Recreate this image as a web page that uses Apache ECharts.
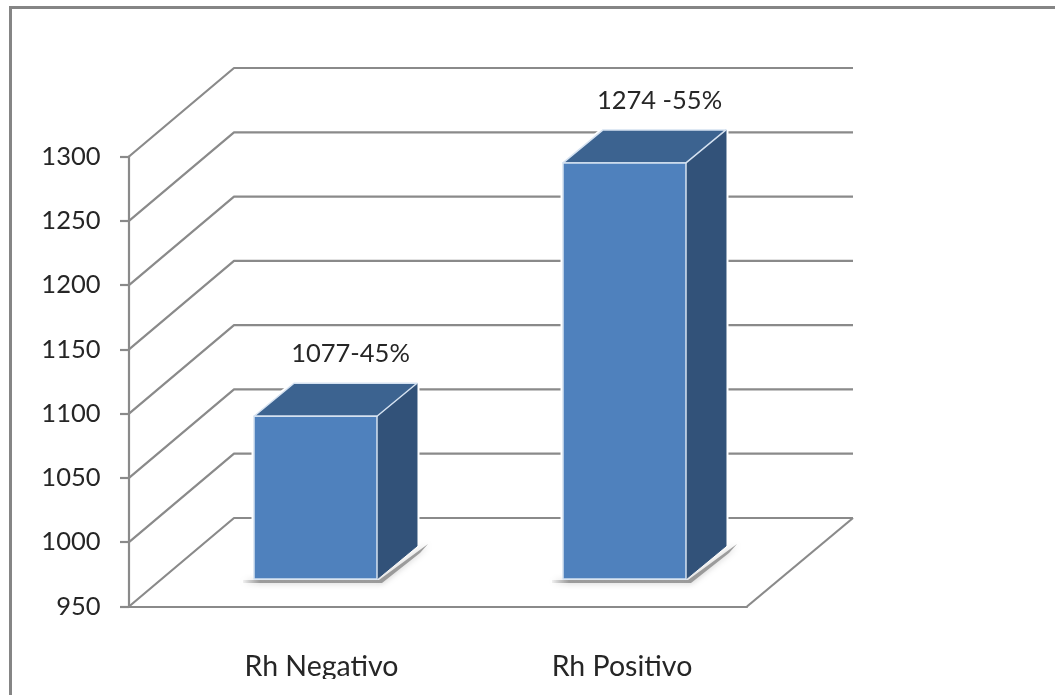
<!DOCTYPE html>
<html>
<head>
<meta charset="utf-8">
<style>html,body{margin:0;padding:0;background:#fff}#chart{width:1055px;height:695px}</style>
<script src="https://cdn.jsdelivr.net/npm/echarts@6/dist/echarts.min.js"></script>
</head>
<body>
<div id="chart"></div>
<script>
// Rh factor counts, drawn as pseudo-3D columns on a walled floor
const categories = ['Rh Negativo', 'Rh Positivo'];
const counts = [1077, 1274];
const valueLabels = ['1077-45%', '1274 -55%'];
const yTicks = [950, 1000, 1050, 1100, 1150, 1200, 1250, 1300];

const AXIS_MIN = 950, AXIS_MAX = 1300;
const WALL_DX = 105, WALL_DY = -88.5;      // how far the back wall sits from the front plane
const BAR_SHIFT_X = 32, BAR_SHIFT_Y = -27; // columns stand part-way into the floor
const BAR_DX = 40, BAR_DY = -33;           // column depth
const LINE = '#8a8a8a';

function polyline(points, width) {
  return { type: 'polyline', shape: { points }, style: { stroke: LINE, lineWidth: width || 2.2, fill: null, lineJoin: 'round' } };
}

function renderWall(params, api) {
  const tick = api.value(0);
  const left = api.coord([0, tick]);
  const plot = params.coordSys;
  const right = plot.x + plot.width;
  const pts = [[plot.x, left[1]], [plot.x + WALL_DX, left[1] + WALL_DY], [right + WALL_DX + 1, left[1] + WALL_DY]];
  const children = [polyline(pts)];
  if (tick === AXIS_MIN) {
    children.push(polyline([[right, left[1]], [right + WALL_DX + 1, left[1] + WALL_DY]]));
  }
  return { type: 'group', children };
}

function renderColumn(params, api) {
  const catIndex = api.value(0);
  const top = api.coord([catIndex, api.value(1)]);
  const base = api.coord([catIndex, AXIS_MIN]);
  const w = api.size([1, 0])[0] * 0.398;
  const x0 = top[0] - w / 2 + BAR_SHIFT_X, x1 = x0 + w;
  const yT = top[1] + BAR_SHIFT_Y, yB = base[1] + BAR_SHIFT_Y - 0.5;
  const edge = { stroke: '#d5e2f1', lineWidth: 1.5, lineJoin: 'round' };
  return {
    type: 'group',
    children: [
      // white halo that interrupts the wall lines around the column
      {
        type: 'polygon',
        shape: { points: [[x0, yB], [x0, yT], [x0 + BAR_DX, yT + BAR_DY], [x1 + BAR_DX, yT + BAR_DY], [x1 + BAR_DX, yB + BAR_DY], [x1, yB]] },
        style: { fill: '#ffffff', stroke: '#ffffff', lineWidth: 5, lineJoin: 'round' }
      },
      // soft cast shadow along the foot of the column, fading towards its left end
      {
        type: 'polygon',
        shape: { points: [[x0 - 11, yB + 1], [x1 + 2, yB + 1], [x1 + BAR_DX + 11, yB + BAR_DY - 2], [x1 + BAR_DX + 3, yB + BAR_DY + 7], [x1 + 5, yB + 4], [x0 - 11, yB + 4]] },
        style: {
          fill: new echarts.graphic.LinearGradient(x0 - 11, 0, x0 + 6, 0, [
            { offset: 0, color: 'rgba(130,130,130,0.1)' },
            { offset: 1, color: 'rgba(130,130,130,0.75)' }
          ], true),
          shadowBlur: 6, shadowColor: 'rgba(130,130,130,0.7)'
        }
      },
      {
        type: 'polygon',
        shape: { points: [[x1, yT], [x1 + BAR_DX, yT + BAR_DY], [x1 + BAR_DX, yB + BAR_DY], [x1, yB]] },
        style: { fill: '#325279', stroke: '#325279', lineWidth: 1 }
      },
      {
        type: 'polygon',
        shape: { points: [[x0, yT], [x0 + BAR_DX, yT + BAR_DY], [x1 + BAR_DX, yT + BAR_DY], [x1, yT]] },
        style: Object.assign({ fill: '#3c6390' }, edge)
      },
      {
        type: 'rect',
        shape: { x: x0, y: yT, width: w, height: yB - yT },
        style: Object.assign({ fill: '#4f81bd' }, edge)
      },
      {
        type: 'text',
        style: {
          x: (x0 + x1) / 2 + 35, y: yT + BAR_DY - 29,
          text: valueLabels[catIndex],
          fill: '#262626', font: '25.5px Lato', align: 'center', verticalAlign: 'middle'
        }
      }
    ]
  };
}

const chart = echarts.init(document.getElementById('chart'), null, { renderer: 'canvas' });
chart.setOption({
  animation: false,
  backgroundColor: '#ffffff',
  grid: { left: 129, top: 156.5, width: 618, height: 450, containLabel: false },
  xAxis: {
    type: 'category',
    data: categories,
    axisLine: { lineStyle: { color: LINE, width: 2.2 } },
    axisTick: { show: false },
    axisLabel: {
      margin: 46,
      formatter: (name, i) => (i === 0 ? '{a|' : '{b|') + name + '}',
      rich: {
        a: { color: '#262626', fontFamily: 'Lato', fontSize: 28.5, padding: [0, 0, 0, 76] },
        b: { color: '#262626', fontFamily: 'Lato', fontSize: 28.5, padding: [0, 0, 0, 59] }
      }
    }
  },
  yAxis: {
    type: 'value',
    min: AXIS_MIN, max: AXIS_MAX, interval: 50,
    axisLine: { show: true, lineStyle: { color: LINE, width: 2.2 } },
    axisTick: { show: true, length: 9, lineStyle: { color: LINE, width: 2.2 } },
    axisLabel: { color: '#262626', fontFamily: 'Lato', fontSize: 25.5, margin: 28.5, formatter: v => String(v) },
    splitLine: { show: false }
  },
  series: [
    { type: 'custom', renderItem: renderWall, data: yTicks.map(t => [t]), encode: { y: 0 }, clip: false, z: 1, silent: true },
    { type: 'custom', renderItem: renderColumn, data: counts.map((v, i) => [i, v]), encode: { x: 0, y: 1 }, clip: false, z: 3, silent: true }
  ],
  graphic: [
    { type: 'rect', z: 20, shape: { x: 0, y: 679, width: 1055, height: 16 }, style: { fill: '#fff' } },
    { type: 'polyline', z: 21, shape: { points: [[10.5, 695], [10.5, 7.5], [1055, 7.5]] }, style: { stroke: '#858585', lineWidth: 3, fill: null } }
  ]
});
</script>
</body>
</html>
